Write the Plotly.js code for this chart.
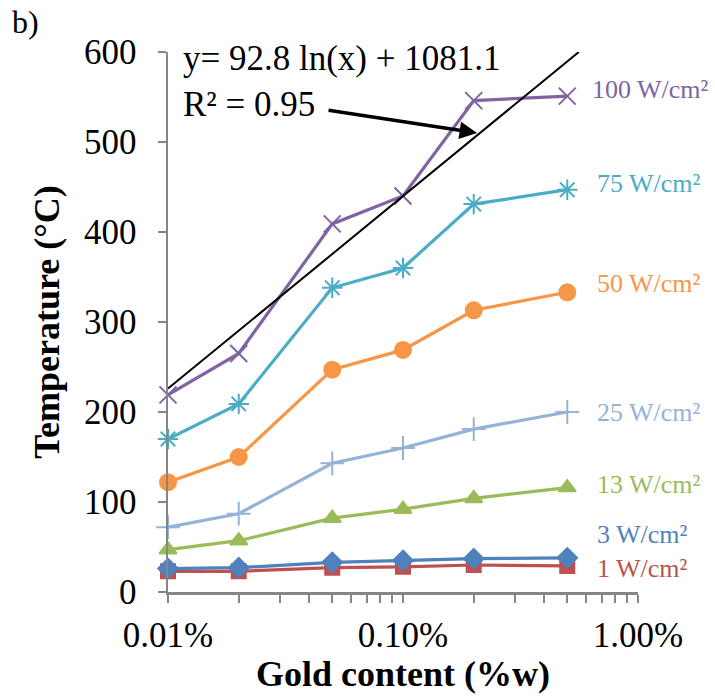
<!DOCTYPE html>
<html>
<head>
<meta charset="utf-8">
<script src="https://cdn.plot.ly/plotly-3.0.1.min.js"></script>
<style>html,body{margin:0;padding:0;background:#fff;}#chart{width:715px;height:700px;}</style>
</head>
<body>
<div id="chart"></div>
<script>
// Gold content (% w)
const goldContent = [0.01, 0.02, 0.05, 0.1, 0.2, 0.5];
// Temperatures (°C) for each power density
const temp1W   = [23, 23, 27, 28, 30, 29];
const temp3W   = [26, 27, 33, 35, 37, 38];
const temp13W  = [47, 57, 82, 92, 104, 116];
const temp25W  = [72, 87, 143, 160, 181, 200];
const temp50W  = [122, 150, 247, 269, 313, 333];
const temp75W  = [170, 209, 338, 360, 431, 447];
const temp100W = [219, 265, 409, 440, 546, 551];
// Logarithmic trendline end points (y = 92.8 ln(x) + 1081.1)
const trendX = [0.01, 0.56];
const trendY = [226, 600];
// Labels
const seriesNames = ['1 W/cm²', '3 W/cm²', '13 W/cm²', '25 W/cm²', '50 W/cm²', '75 W/cm²', '100 W/cm²'];
const labelY = [26, 64, 119, 200, 343, 454, 558];
const xTickVals = [0.01, 0.1, 1];
const xTickText = ['0.01%', '0.10%', '1.00%'];

const series = [temp1W, temp3W, temp13W, temp25W, temp50W, temp75W, temp100W];
const colors = ['#C0504D', '#4F81BD', '#9BBB59', '#95B3D7', '#F79646', '#4BACC6', '#8064A2'];
const symbols = ['square', 'diamond', 'triangle-up', 'cross-thin-open', 'circle', 'asterisk-open', 'x-thin-open'];
const sizes = [14, 15, 15, 17, 16, 17, 17];

const traces = series.map((ys, i) => ({
  x: goldContent, y: ys, type: 'scatter', mode: 'lines+markers',
  name: seriesNames[i], cliponaxis: false,
  line: {color: colors[i], width: 3.2},
  marker: {symbol: symbols[i], size: sizes[i], color: colors[i], line: {color: colors[i], width: 2}}
}));
traces.push({
  x: trendX, y: trendY, type: 'scatter', mode: 'lines', name: 'trend',
  line: {color: '#000000', width: 2}, cliponaxis: false
});

const serif = 'Liberation Serif, Times New Roman, serif';
const annotations = seriesNames.map((n, i) => ({
  text: n, xref: 'paper', yref: 'y', x: i === 6 ? 0.897 : 0.908, y: labelY[i],
  xanchor: 'left', yanchor: 'middle', showarrow: false,
  font: {family: serif, size: 26, color: colors[i]}
}));
annotations.push({
  text: 'y= 92.8 ln(x) + 1081.1<br>R² = 0.95', xref: 'paper', yref: 'paper',
  x: 0.027, y: 1.027, xanchor: 'left', yanchor: 'top', align: 'left', showarrow: false,
  font: {family: serif, size: 35, color: '#000'}
});
annotations.push({
  text: '', xref: 'x', yref: 'y', x: Math.log10(0.2066), y: 510,
  ax: -150, ay: -23, showarrow: true, arrowhead: 2, arrowsize: 1, arrowwidth: 3.5, arrowcolor: '#000'
});
annotations.push({
  text: 'b)', xref: 'paper', yref: 'paper', x: -0.337, y: 1.055, xanchor: 'left', yanchor: 'middle',
  showarrow: false, font: {family: serif, size: 32, color: '#000'}
});

const layout = {
  width: 715, height: 700,
  margin: {l: 168, r: 77, t: 52, b: 108},
  paper_bgcolor: '#fff', plot_bgcolor: '#fff',
  showlegend: false,
  font: {family: serif, color: '#000'},
  xaxis: {
    type: 'log', range: [-2, 0], tickvals: xTickVals, ticktext: xTickText,
    showgrid: false, zeroline: false, showline: true, linecolor: '#868686', linewidth: 2.5,
    ticks: 'outside', ticklen: 8, tickwidth: 2.5, tickcolor: '#868686',
    minor: {ticks: 'outside', ticklen: 8, tickwidth: 2, tickcolor: '#868686', dtick: 'D1', showgrid: false},
    tickfont: {family: serif, size: 35, color: '#000'}, ticklabelstandoff: 2,
    title: {text: '<b>Gold content (%w)</b>', font: {family: serif, size: 36, color: '#000'}, standoff: 6}
  },
  yaxis: {
    range: [0, 600], dtick: 100,
    showgrid: false, zeroline: false, showline: true, linecolor: '#868686', linewidth: 2.5,
    ticks: 'outside', ticklen: 8, tickwidth: 2.5, tickcolor: '#868686',
    tickfont: {family: serif, size: 35, color: '#000'}, ticklabelstandoff: 14,
    title: {text: '<b>Temperature (°C)</b>', font: {family: serif, size: 36, color: '#000'}, standoff: 14}
  },
  annotations: annotations
};

Plotly.newPlot('chart', traces, layout, {displayModeBar: false, staticPlot: true});
</script>
</body>
</html>
